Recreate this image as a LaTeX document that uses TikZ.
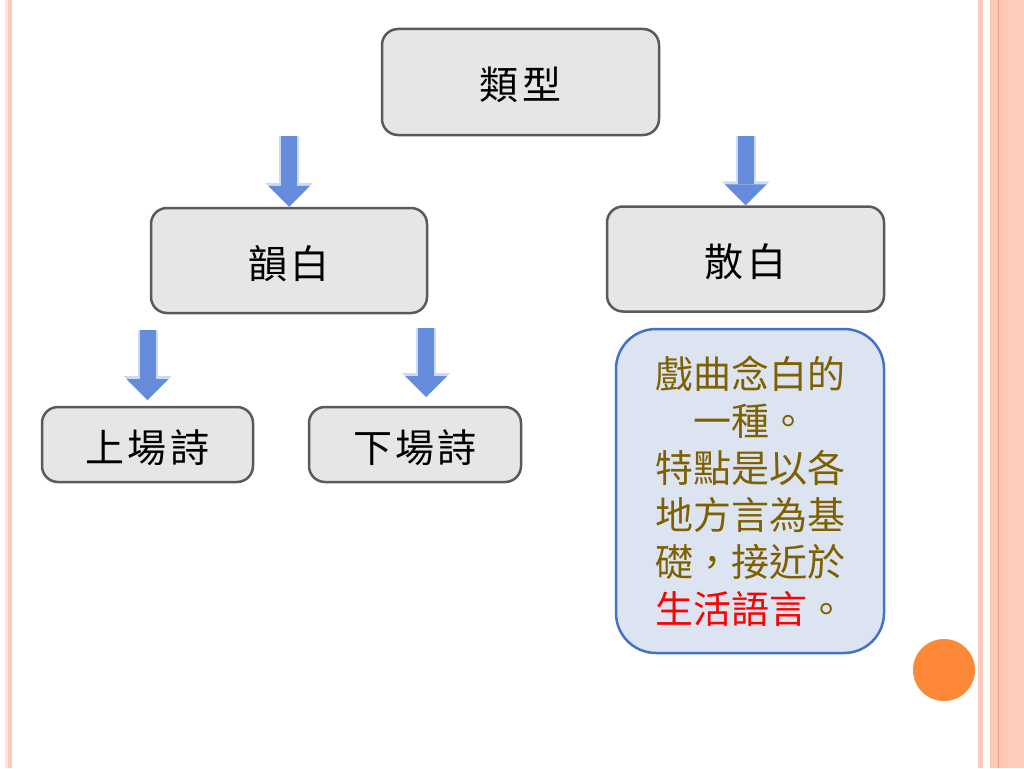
\documentclass[tikz,border=0pt]{standalone}
\usepackage{fontspec}
\newfontfamily\cjk{Noto Sans CJK TC}
\newfontfamily\cjkwide[LetterSpace=8]{Noto Sans CJK TC}
\usetikzlibrary{arrows.meta}
\definecolor{boxfill}{RGB}{229,230,232}
\definecolor{boxline}{RGB}{90,90,90}
\definecolor{arrowblue}{RGB}{100,140,218}
\definecolor{halo}{RGB}{205,218,244}
\definecolor{descfill}{RGB}{221,228,241}
\definecolor{descline}{RGB}{68,114,196}
\definecolor{olivetext}{RGB}{127,96,0}
\definecolor{dotorange}{RGB}{253,137,56}
\definecolor{stripeA}{RGB}{250,229,214}
\definecolor{stripeB}{RGB}{253,201,188}
\definecolor{stripeC}{RGB}{253,201,180}
\definecolor{stripeD}{RGB}{253,204,186}
\definecolor{stripeLine}{RGB}{232,160,130}
\definecolor{pureRed}{RGB}{255,0,0}
\begin{document}
\begin{tikzpicture}[x=1pt,y=-1pt,
  graybox/.style={draw=boxline, fill=boxfill, line width=2.5pt, rounded corners=16pt,
    font=\cjkwide\fontsize{39}{47}\selectfont, inner sep=0pt, text=black,
    text height=36pt, text depth=0.4pt},
  descbox/.style={draw=descline, fill=descfill, line width=2.5pt, rounded corners=40pt,
    font=\cjk\fontsize{38}{47}\selectfont, inner sep=0pt, align=center, text=olivetext,
    minimum width=268pt, minimum height=324pt},
  barrow/.style={draw=arrowblue, line width=16pt,
    -{Triangle[width=42pt,length=21pt,line width=0pt]},
    preaction={draw=halo, line width=20pt, -{Triangle[width=48pt,length=24pt,line width=0pt]}}}]
\useasboundingbox (0,0) rectangle (1024,768);
\fill[white] (0,0) rectangle (1024,768);
% slide borders
\fill[stripeA] (5,0) rectangle (8,768);
\fill[stripeB] (8,0) rectangle (12,768);
\fill[stripeB] (978,0) rectangle (983,768);
\fill[stripeC] (990,0) rectangle (1024,768);
\fill[stripeD] (1007,0) rectangle (1024,768);
\fill[stripeLine] (997.5,0) rectangle (999,768);
% orange dot
\fill[dotorange] (944,670) circle[radius=31];
% boxes
\node[graybox, minimum width=277pt, minimum height=106pt] (lei) at (520.5,82) {類型};
\node[graybox, minimum width=276pt, minimum height=105pt] (yun) at (289,260.5) {韻白};
\node[graybox, minimum width=277pt, minimum height=105pt] (san) at (745.5,259) {散白};
\node[graybox, minimum width=211pt, minimum height=75pt] (shang) at (147.5,444.5) {上場詩};
\node[graybox, minimum width=212pt, minimum height=75pt] (xia) at (415,444.5) {下場詩};
\node[descbox] (desc) at (750,491) {戲曲念白的\\一種。\\特點是以各\\地方言為基\\礎，接近於\\\textcolor{pureRed}{生活語言}。};
% arrows
\coordinate (a3top) at (147.5,330);
\coordinate (a3tip) at (147.5,400);
\coordinate (a4top) at (426,328);
\coordinate (a4tip) at (426,397);
\draw[barrow] (yun.north |- lei.south) -- (yun.north);
\draw[barrow] (san.north |- lei.south) -- (san.north);
\draw[barrow] (a3top) -- (a3tip);
\draw[barrow] (a4top) -- (a4tip);
\end{tikzpicture}
\end{document}
